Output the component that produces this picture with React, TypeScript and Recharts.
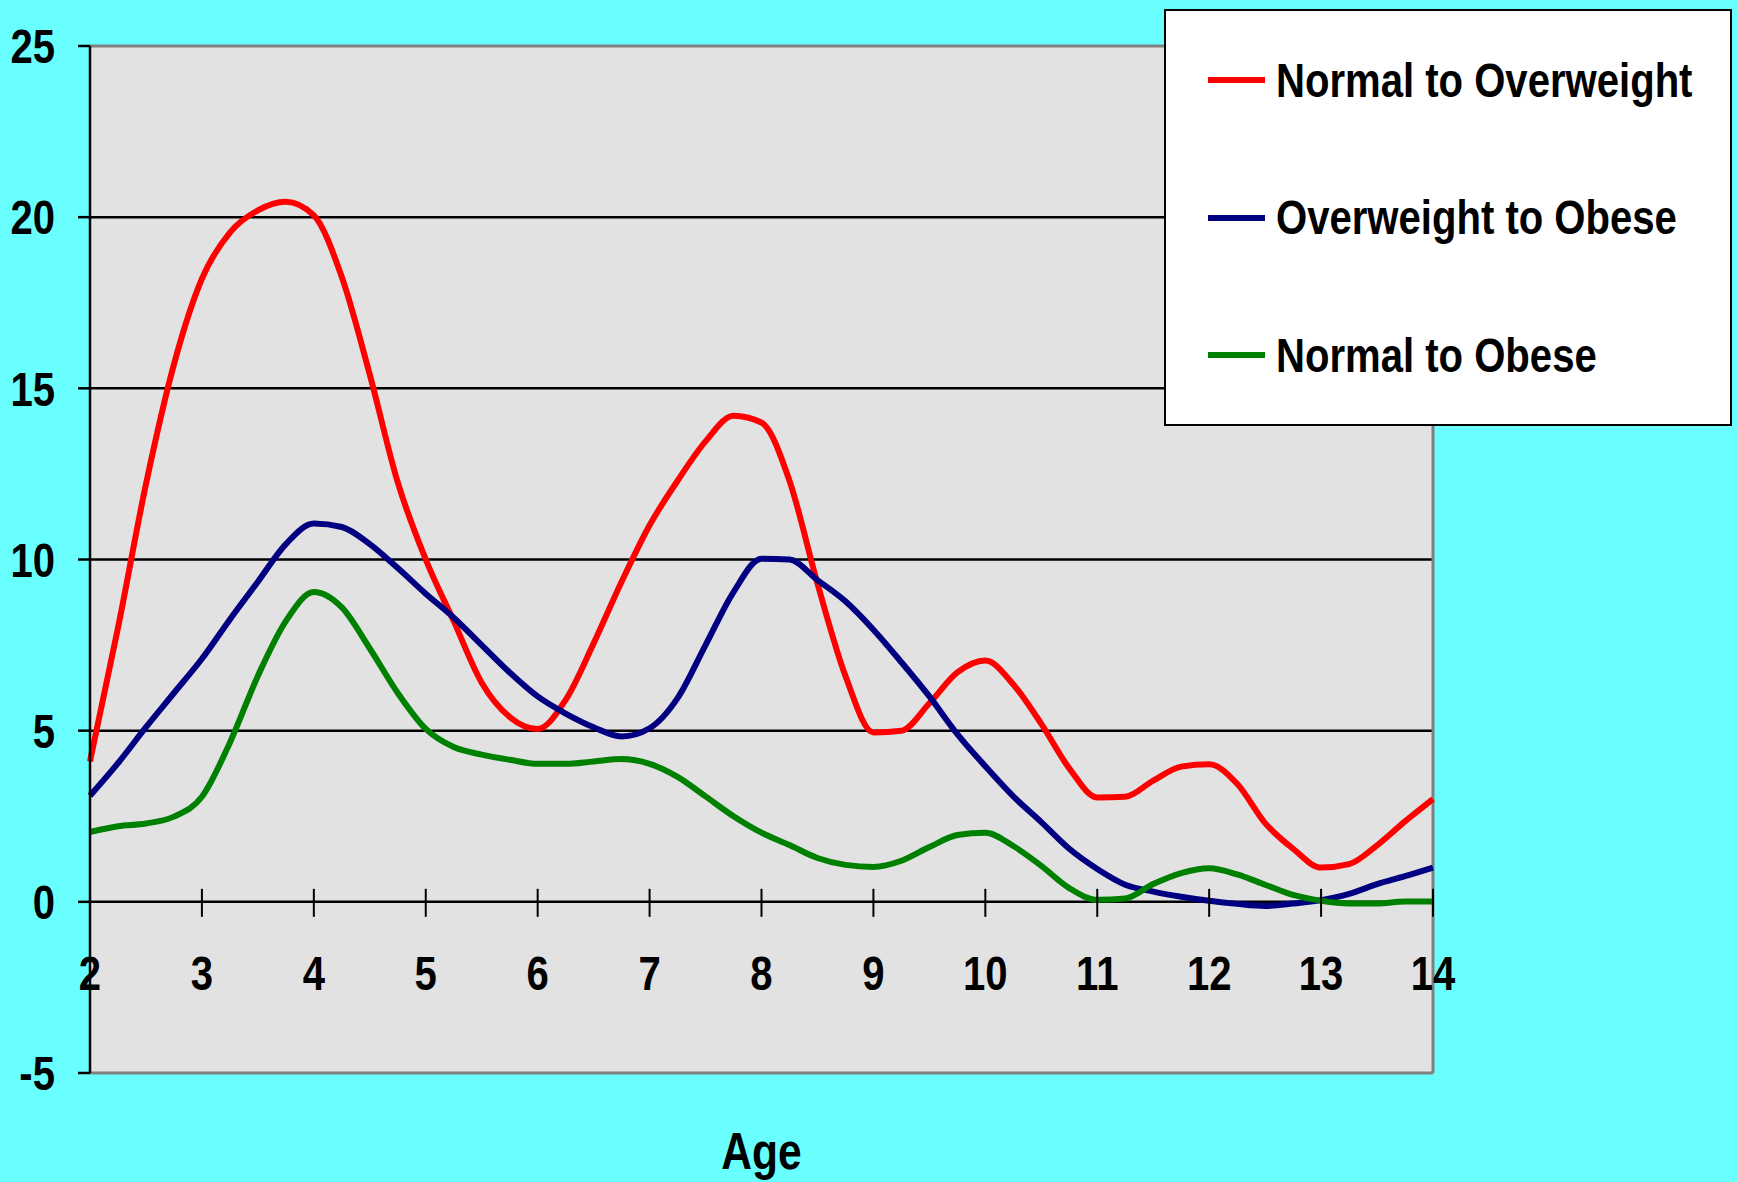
import { CartesianGrid, Line, LineChart, ReferenceLine, XAxis, YAxis } from 'recharts'

const FONT = '"Liberation Sans", Arial, sans-serif'
const NARROW = 0.835

const ages = [
  2, 2.25, 2.5, 2.75, 3, 3.25, 3.5, 3.75, 4, 4.25, 4.5, 4.75, 5, 5.25, 5.5, 5.75, 6, 6.25, 6.5, 6.75,
  7, 7.25, 7.5, 7.75, 8, 8.25, 8.5, 8.75, 9, 9.25, 9.5, 9.75, 10, 10.25, 10.5, 10.75, 11, 11.25, 11.5,
  11.75, 12, 12.25, 12.5, 12.75, 13, 13.25, 13.5, 13.75, 14,
]

const normalToOverweight = [
  4.1, 8.0, 12.2, 15.7, 18.2, 19.55, 20.2, 20.45, 20.05, 18.25, 15.4, 12.25, 10.0, 8.2, 6.4, 5.4, 5.05,
  5.9, 7.55, 9.35, 11.0, 12.3, 13.45, 14.2, 14.0, 12.3, 9.3, 6.6, 4.95, 5.0, 5.8, 6.7, 7.05, 6.35, 5.2,
  3.9, 3.05, 3.07, 3.54, 3.95, 4.02, 3.45, 2.3, 1.55, 1.0, 1.1, 1.65, 2.35, 3.0,
]

const overweightToObese = [
  3.1, 4.05, 5.1, 6.1, 7.1, 8.25, 9.35, 10.45, 11.05, 10.95, 10.45, 9.75, 9.0, 8.3, 7.5, 6.7, 6.0, 5.5,
  5.1, 4.83, 5.07, 5.95, 7.5, 9.05, 10.02, 10.0, 9.4, 8.78, 7.95, 7.0, 6.0, 4.9, 3.96, 3.08, 2.33, 1.55,
  0.96, 0.5, 0.3, 0.15, 0.03, -0.06, -0.12, -0.05, 0.05, 0.23, 0.52, 0.75, 1.0,
]

const normalToObese = [
  2.04, 2.21, 2.29, 2.49, 3.07, 4.65, 6.6, 8.2, 9.05, 8.6, 7.4, 6.1, 5.05, 4.52, 4.3, 4.15, 4.03, 4.03,
  4.1, 4.17, 4.03, 3.65, 3.08, 2.5, 2.02, 1.66, 1.28, 1.08, 1.02, 1.2, 1.6, 1.95, 2.02, 1.63, 1.05, 0.4,
  0.06, 0.1, 0.52, 0.84, 0.98, 0.8, 0.5, 0.2, 0.03, -0.05, -0.05, 0.01, 0.01,
]

const xTicks = [2, 3, 4, 5, 6, 7, 8, 9, 10, 11, 12, 13, 14]
const yTicks = [-5, 0, 5, 10, 15, 20, 25]
const gridValues = [0, 5, 10, 15, 20]

const series = [
  { key: 'normalToOverweight', name: 'Normal to Overweight', color: '#ff0000' },
  { key: 'overweightToObese', name: 'Overweight to Obese', color: '#000080' },
  { key: 'normalToObese', name: 'Normal to Obese', color: '#008000' },
]

const chartData = ages.map((age, i) => ({
  age,
  normalToOverweight: normalToOverweight[i],
  overweightToObese: overweightToObese[i],
  normalToObese: normalToObese[i],
}))

// layout of the plot box
const W = 1738
const H = 1182
const TOP = 46
const BOTTOM_AXIS = 109
const PLOT_H = H - TOP - BOTTOM_AXIS
const ZERO_Y = TOP + (PLOT_H * 25) / 30

function ZeroTick(props: any) {
  const { x, payload } = props
  return (
    <g>
      <line x1={x} x2={x} y1={ZERO_Y - 13} y2={ZERO_Y + 15} stroke="#000" strokeWidth={2} />
      <text
        transform={`translate(${x},${ZERO_Y + 88}) scale(${NARROW},1)`}
        textAnchor="middle"
        fill="#000"
        fontSize={48}
        fontWeight="bold"
        fontFamily={FONT}
      >
        {payload.value}
      </text>
    </g>
  )
}

function LeftTick(props: any) {
  const { x, y, payload } = props
  return (
    <text
      transform={`translate(${x},${y}) scale(${NARROW},1)`}
      dy="0.36em"
      textAnchor="end"
      fill="#000"
      fontSize={48}
      fontWeight="bold"
      fontFamily={FONT}
    >
      {payload.value}
    </text>
  )
}

function AgeLabel(props: any) {
  const { viewBox } = props
  const cx = viewBox.x + viewBox.width / 2
  return (
    <text
      transform={`translate(${cx},${H - 13}) scale(${NARROW},1)`}
      textAnchor="middle"
      fill="#000"
      fontSize={51}
      fontWeight="bold"
      fontFamily={FONT}
    >
      Age
    </text>
  )
}

function LegendBox() {
  return (
    <div
      style={{
        position: 'absolute',
        left: 1164,
        top: 9,
        width: 564,
        height: 413,
        background: '#fff',
        border: '2px solid #000',
        fontFamily: FONT,
      }}
    >
      {series.map((s, i) => (
        <div
          key={s.key}
          style={{
            position: 'absolute',
            left: 42,
            top: 39 + i * 137.5,
            height: 60,
            display: 'flex',
            alignItems: 'center',
          }}
        >
          <div style={{ width: 57, height: 6, background: s.color, marginRight: 11 }} />
          <span
            style={{
              display: 'inline-block',
              fontSize: 48,
              fontWeight: 'bold',
              color: '#000',
              whiteSpace: 'nowrap',
              transform: `scaleX(${NARROW})`,
              transformOrigin: 'left center',
            }}
          >
            {s.name}
          </span>
        </div>
      ))}
    </div>
  )
}

function App() {
  return (
    <div style={{ position: 'relative', width: W, height: H, background: '#69ffff' }}>
      <style>{'body{margin:0}'}</style>
      <LineChart
        width={W}
        height={H}
        data={chartData}
        margin={{ top: TOP, right: 305, bottom: 0, left: 0 }}
      >
        <CartesianGrid
          vertical={false}
          horizontalValues={gridValues}
          fill="#e2e2e2"
          fillOpacity={1}
          stroke="#000"
          strokeWidth={2.5}
        />
        {/* grey frame on top, right and bottom of the plot */}
        <ReferenceLine y={25} stroke="#808080" strokeWidth={3} />
        <ReferenceLine y={-5} stroke="#808080" strokeWidth={3} />
        <ReferenceLine x={14} stroke="#808080" strokeWidth={3} />
        <XAxis
          dataKey="age"
          type="number"
          domain={[2, 14]}
          ticks={xTicks}
          axisLine={false}
          tickLine={false}
          tick={<ZeroTick />}
          height={BOTTOM_AXIS}
          interval={0}
          label={<AgeLabel />}
        />
        <YAxis
          domain={[-5, 25]}
          ticks={yTicks}
          width={90}
          interval={0}
          axisLine={{ stroke: '#000', strokeWidth: 2.5 }}
          tickLine={{ stroke: '#000', strokeWidth: 2.5 }}
          tickSize={12}
          tickMargin={23}
          tick={<LeftTick />}
        />
        {series.map((s) => (
          <Line
            key={s.key}
            name={s.name}
            dataKey={s.key}
            type="monotone"
            stroke={s.color}
            strokeWidth={6}
            dot={false}
            isAnimationActive={false}
          />
        ))}
      </LineChart>
      <LegendBox />
    </div>
  )
}

export default App
